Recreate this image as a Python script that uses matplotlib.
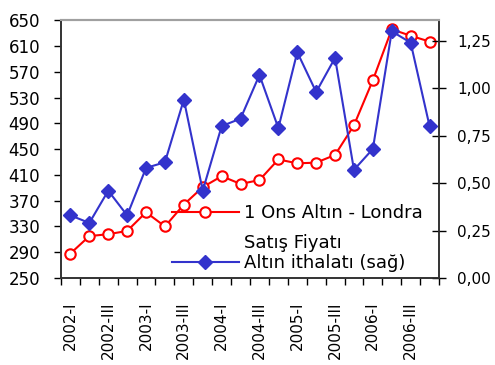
import matplotlib
matplotlib.use("Agg")
import matplotlib.pyplot as plt
from matplotlib.lines import Line2D
import numpy as np

quarters = ["2002-I", "2002-II", "2002-III", "2002-IV",
            "2003-I", "2003-II", "2003-III", "2003-IV",
            "2004-I", "2004-II", "2004-III", "2004-IV",
            "2005-I", "2005-II", "2005-III", "2005-IV",
            "2006-I", "2006-II", "2006-III", "2006-IV"]
gold_price = [288, 315, 318, 323, 352, 330, 364, 391, 408, 396, 402, 434,
              428, 429, 441, 487, 557, 636, 626, 617]
gold_import = [0.33, 0.29, 0.46, 0.33, 0.58, 0.61, 0.94, 0.46, 0.80, 0.84,
               1.07, 0.79, 1.19, 0.98, 1.16, 0.57, 0.68, 1.30, 1.24, 0.80]
left_ticks = [250, 290, 330, 370, 410, 450, 490, 530, 570, 610, 650]
right_ticks = [0.0, 0.25, 0.5, 0.75, 1.0, 1.25]
right_tick_labels = ["0,00", "0,25", "0,50", "0,75", "1,00", "1,25"]
label_red = "1 Ons Altın - Londra"
label_red2 = "Satış Fiyatı"
label_blue = "Altın ithalatı (sağ)"

RED = "#FF0000"
BLUE = "#3333CC"
FS = 12
LFS = 13

fig = plt.figure(figsize=(4.95, 3.65), dpi=100)
ax = fig.add_axes([0.1232, 0.2384, 0.7637, 0.7060])
ax2 = ax.twinx()

n = len(quarters)
x = np.arange(n)

ax.plot(x, gold_price, color=RED, lw=1.5, marker="o", ms=7.5,
        mfc="white", mec=RED, mew=1.5, zorder=3)
ax2.plot(x, gold_import, color=BLUE, lw=1.5, marker="D", ms=7,
         mfc=BLUE, mec=BLUE, zorder=3)

ax.set_xlim(-0.5, n - 0.5)
ax.set_ylim(250, 650)
ax2.set_ylim(0, 1.358)

ax.set_yticks(left_ticks)
ax.set_yticklabels([str(v) for v in left_ticks], fontsize=FS)
ax.tick_params(axis="y", direction="out", length=5, width=1, pad=10)

ax2.set_yticks(right_ticks)
ax2.set_yticklabels(right_tick_labels, fontsize=11)
ax2.tick_params(axis="y", direction="inout", length=10, width=1, pad=8)

major = x[::2]
ax.set_xticks(major)
ax.set_xticklabels([quarters[i] for i in major], rotation=90, fontsize=11)
ax.set_xticks(np.arange(-0.5, n, 1.0), minor=True)
ax.tick_params(axis="x", which="major", length=0, pad=17)
ax.tick_params(axis="x", which="minor", direction="out", length=5, width=1)

for a in (ax, ax2):
    a.spines["top"].set_color("#A0A0A0")
    a.spines["top"].set_linewidth(1.5)
    for s in ("left", "right", "bottom"):
        a.spines[s].set_color("#333333")
        a.spines[s].set_linewidth(1.2)

h_red = Line2D([], [], color=RED, lw=1.5, marker="o", ms=7.5,
               mfc="white", mec=RED, mew=1.5)
h_blank = Line2D([], [], color="none")
h_blue = Line2D([], [], color=BLUE, lw=1.5, marker="D", ms=7,
                mfc=BLUE, mec=BLUE)

leg1 = ax2.legend([h_red, h_blank], [label_red, label_red2],
                  loc="upper left", bbox_to_anchor=(172 / 495, 1 - 204 / 365),
                  bbox_transform=fig.transFigure, frameon=False,
                  fontsize=LFS, handlelength=3.7, handletextpad=0.3,
                  labelspacing=0.65, borderpad=0, borderaxespad=0)
ax2.add_artist(leg1)
leg2 = ax2.legend([h_blue], [label_blue],
                  loc="upper left", bbox_to_anchor=(172 / 495, 1 - 254 / 365),
                  bbox_transform=fig.transFigure, frameon=False,
                  fontsize=LFS, handlelength=3.7, handletextpad=0.3,
                  borderpad=0, borderaxespad=0)

fig.savefig("out.png", dpi=100)
